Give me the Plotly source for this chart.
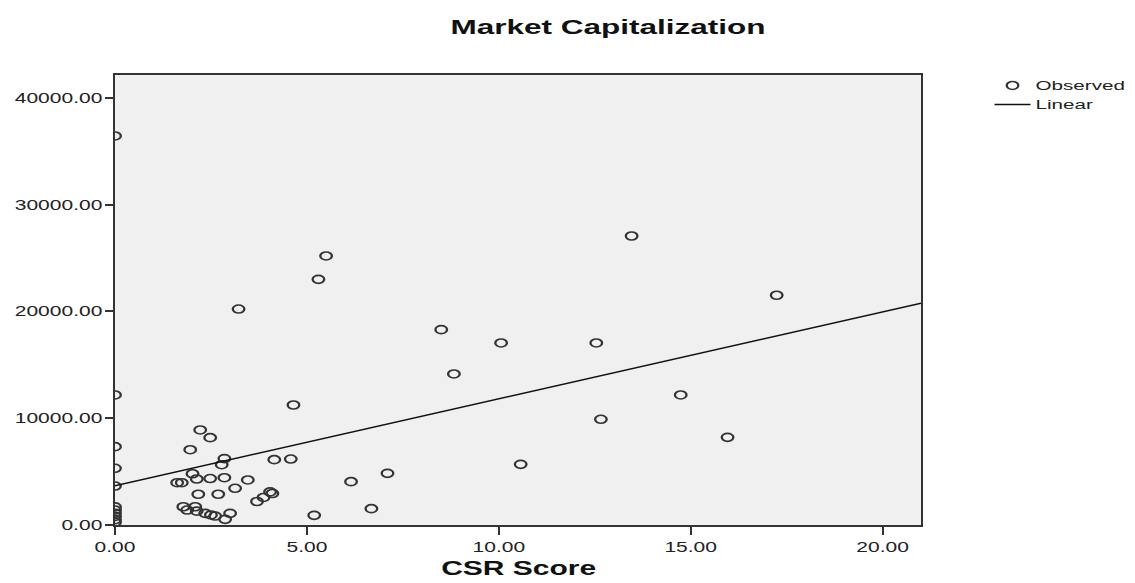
import plotly.graph_objects as go

# CSR score vs. market capitalization (observed firms)
csr_score = [
    0, 0, 0, 0, 0, 0, 0, 0, 0, 0, 0,
    1.62, 1.74, 1.78, 1.88, 1.96, 2.02, 2.09, 2.13, 2.13, 2.17,
    2.22, 2.35, 2.48, 2.48, 2.50, 2.61, 2.69, 2.78, 2.85, 2.85,
    2.87, 3.00, 3.13, 3.22, 3.46, 3.70, 3.87, 4.04, 4.10, 4.15,
    4.58, 4.65, 5.19, 5.30, 5.50, 6.15, 6.68, 7.10, 8.50, 8.83,
    10.06, 10.57, 12.54, 12.66, 13.46, 14.74, 15.96, 17.24,
]
market_cap = [
    36440, 12180, 7340, 5310, 3650, 1700, 1400, 1100, 800, 500, 250,
    3960, 3960, 1710, 1400, 7050, 4800, 1710, 1300, 4310, 2880,
    8900, 1090, 8180, 4350, 940, 840, 2880, 5650, 6220, 4430,
    530, 1090, 3440, 20230, 4220, 2200, 2580, 3100, 2950, 6120,
    6180, 11240, 905, 23010, 25200, 4060, 1530, 4840, 18300, 14150,
    17050, 5680, 17050, 9900, 27070, 12180, 8210, 21520,
]

# Linear fit coefficients
fit_intercept = 3680
fit_slope = 814
fit_x = [0, 21]
fit_y = [fit_intercept + fit_slope * v for v in fit_x]

x_ticks = [0, 5, 10, 15, 20]
y_ticks = [0, 10000, 20000, 30000, 40000]

FONT = "Liberation Sans, Arial, sans-serif"

fig = go.Figure()
fig.add_trace(go.Scatter(
    x=csr_score, y=market_cap, mode="markers", name="Observed",
    marker=dict(symbol="circle-open", size=8, color="#333333",
                line=dict(width=1.6, color="#333333")),
))
fig.add_trace(go.Scatter(
    x=fit_x, y=fit_y, mode="lines", name="Linear",
    line=dict(color="#111111", width=1.6),
))

axis_common = dict(
    showline=True, linecolor="#333333", linewidth=1.7, mirror=True,
    ticks="outside", ticklen=8, tickwidth=1.5, tickcolor="#333333",
    showgrid=False, zeroline=False, tickformat=".2f",
    tickfont=dict(family=FONT, size=14, color="#222222"),
)

fig.update_layout(
    width=1135, height=583,
    margin=dict(l=115, r=214, t=75, b=58),
    paper_bgcolor="white", plot_bgcolor="#f0f0f0",
    xaxis=dict(range=[0, 21], tickvals=x_ticks, **axis_common),
    yaxis=dict(range=[0, 42150], tickvals=y_ticks, **axis_common),
    showlegend=True,
    legend=dict(x=1.085, y=1.009, xanchor="left", yanchor="top",
                bgcolor="rgba(0,0,0,0)", tracegroupgap=0, itemwidth=36,
                font=dict(family=FONT, size=12, color="#222222")),
    annotations=[
        dict(text="<b>Market Capitalization</b>", xref="paper", yref="paper",
             x=(608 - 115) / 806, y=(583 - 26 - 58) / 450, showarrow=False,
             xanchor="center", yanchor="middle",
             font=dict(family=FONT, size=21, color="#111111")),
        dict(text="<b>CSR Score</b>", xref="paper", yref="paper",
             x=0.5, y=-(568 - 525) / 450, showarrow=False,
             xanchor="center", yanchor="middle",
             font=dict(family=FONT, size=20, color="#111111")),
    ],
)

# The lettering and markers are drawn horizontally extended
stretch_js = """
var gd = document.getElementById('{plot_id}');
gd.querySelectorAll('text').forEach(function (t) {
  var w = t.getComputedTextLength();
  var k = t.closest('.legend') ? 1.72 : 1.5;
  if (w > 0) {
    t.setAttribute('textLength', (w * k).toFixed(1));
    t.setAttribute('lengthAdjust', 'spacingAndGlyphs');
  }
});
gd.querySelectorAll('.legend .scrollbox').forEach(function (g) {
  g.removeAttribute('clip-path');
});
gd.querySelectorAll('path.point, .legend path.scatterpts').forEach(function (p) {
  var tr = p.getAttribute('transform') || '';
  p.setAttribute('transform', tr + ' scale(1.45,1)');
});
"""

fig.write_html("out.html", post_script=stretch_js)
